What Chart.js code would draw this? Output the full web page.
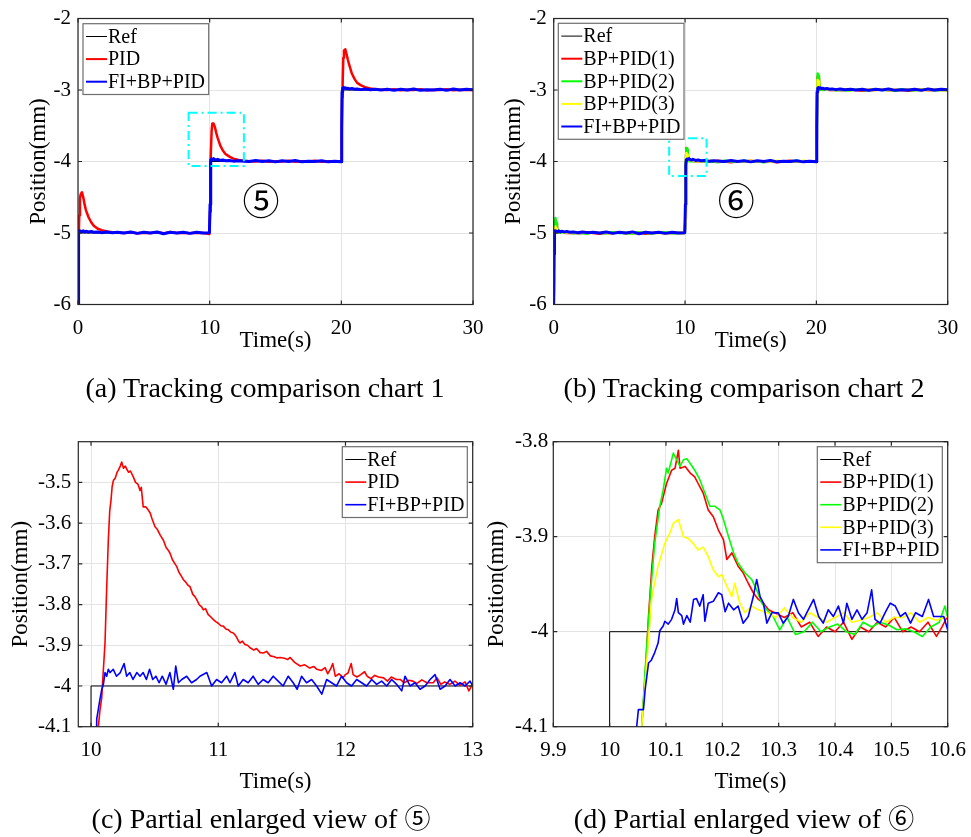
<!DOCTYPE html>
<html>
<head>
<meta charset="utf-8">
<script src="https://cdn.jsdelivr.net/npm/chart.js@4.4.1/dist/chart.umd.min.js"></script>
<style>
  body { margin: 0; background: #fff; width: 971px; height: 837px; position: relative; overflow: hidden; }
  canvas { position: absolute; }
  .cap { position: absolute; font-family: 'Liberation Serif', 'Times New Roman', Times, 'DejaVu Serif', serif; font-size: 28px; line-height: 1; white-space: nowrap; transform: translateX(-50%); color: #000; }
  .cap span { font-family: 'Noto Sans CJK JP', 'Noto Sans CJK SC', sans-serif; font-size: 26px; }
</style>
</head>
<body>
<canvas id="ca" width="485" height="360" style="left:0;top:0"></canvas>
<canvas id="cb" width="486" height="360" style="left:485px;top:0"></canvas>
<canvas id="cc" width="485" height="400" style="left:0;top:400px"></canvas>
<canvas id="cd" width="486" height="400" style="left:485px;top:400px"></canvas>
<div class="cap" style="left:265px;top:374px">(a) Tracking comparison chart 1</div>
<div class="cap" style="left:744px;top:374px">(b) Tracking comparison chart 2</div>
<div class="cap" style="left:261px;top:804px">(c) Partial enlarged view of <span>⑤</span></div>
<div class="cap" style="left:744px;top:804px">(d) Partial enlarged view of <span>⑥</span></div>
<script>
// ---- dados ----
// referência (degraus)
const refT = [0, 10, 10, 20, 20, 30];
const refY = [-5, -5, -4, -4, -3, -3];

// (a) / (b) eixo de tempo comum para PID e FI+BP+PID
const tA = [0, 0.03, 0.06, 0.1, 0.15, 0.2, 0.3, 0.4, 0.5, 0.6, 0.8, 1.0, 1.2, 1.5, 1.8, 2.2, 2.6, 3, 3.5, 4, 4.5, 5, 5.5, 6, 6.5, 7, 7.5, 8, 8.5, 9, 9.5, 9.98,
  10.03, 10.06, 10.1, 10.15, 10.2, 10.3, 10.4, 10.5, 10.6, 10.8, 11.0, 11.2, 11.5, 11.8, 12.2, 12.6, 13, 13.5, 14, 14.5, 15, 15.5, 16, 16.5, 17, 17.5, 18, 18.5, 19, 19.5, 19.98,
  20.03, 20.06, 20.1, 20.15, 20.2, 20.3, 20.4, 20.5, 20.6, 20.8, 21.0, 21.2, 21.5, 21.8, 22.2, 22.6, 23, 23.5, 24, 24.5, 25, 25.5, 26, 26.5, 27, 27.5, 28, 28.5, 29, 29.5, 30];
const pidA = [-6, -5.6, -5.1, -4.75, -4.52, -4.46, -4.43, -4.5, -4.6, -4.68, -4.78, -4.85, -4.9, -4.94, -4.96, -4.98, -4.99, -4.995, -5.0, -4.99, -5.005, -4.995, -5.0, -4.99, -5.005, -4.985, -5.0, -4.995, -5.005, -4.995, -5.0, -5.015,
  -4.7, -4.1, -3.92, -3.57, -3.47, -3.47, -3.52, -3.6, -3.665, -3.775, -3.846, -3.895, -3.932, -3.96, -3.98, -3.99, -3.995, -4.0, -3.99, -4.005, -3.995, -4.0, -3.99, -4.005, -3.995, -4.0, -3.99, -4.005, -3.995, -4.0, -4.0,
  -3.7, -3.1, -2.9, -2.55, -2.45, -2.43, -2.5, -2.58, -2.65, -2.77, -2.845, -2.9, -2.935, -2.96, -2.98, -2.99, -2.995, -3.0, -2.99, -3.005, -2.995, -3.0, -2.99, -3.005, -2.995, -3.0, -2.99, -3.005, -2.995, -3.0, -3.0];
const fibpA = [-6, -5.3, -4.99, -4.97, -4.98, -4.975, -4.98, -4.97, -4.985, -4.975, -4.985, -4.98, -4.99, -4.985, -4.995, -4.985, -4.995, -4.99, -5.0, -4.985, -5.005, -4.99, -5.0, -4.985, -5.01, -4.99, -5.0, -4.99, -5.005, -4.99, -5.0, -4.995,
  -4.6, -4.05, -3.975, -3.965, -3.975, -3.96, -3.975, -3.98, -3.97, -3.985, -3.98, -3.99, -3.985, -3.995, -3.99, -3.995, -4.0, -3.985, -4.0, -3.99, -4.005, -3.99, -4.0, -3.985, -4.005, -3.995, -4.0, -3.99, -4.005, -3.995, -4.005,
  -3.5, -3.03, -2.975, -2.965, -2.975, -2.97, -2.98, -2.975, -2.985, -2.98, -2.99, -2.985, -2.995, -2.985, -2.995, -2.99, -3.0, -2.99, -3.005, -2.99, -3.0, -2.985, -3.005, -2.995, -3.0, -2.99, -3.005, -2.985, -3.0, -2.99, -2.995];

// (b) eixo de tempo das curvas BP+PID
const tB = [0, 0.03, 0.06, 0.08, 0.1, 0.12, 0.15, 0.2, 0.25, 0.3, 0.5, 1, 1.5, 2, 2.5, 3, 3.5, 4, 4.5, 5, 5.5, 6, 6.5, 7, 7.5, 8, 8.5, 9, 9.5, 9.98,
  10.03, 10.06, 10.08, 10.1, 10.12, 10.15, 10.2, 10.25, 10.3, 10.5, 11, 11.5, 12, 12.5, 13, 13.5, 14, 14.5, 15, 15.5, 16, 16.5, 17, 17.5, 18, 18.5, 19, 19.5, 19.98,
  20.03, 20.06, 20.08, 20.1, 20.12, 20.15, 20.2, 20.25, 20.3, 20.5, 21, 21.5, 22, 22.5, 23, 23.5, 24, 24.5, 25, 25.5, 26, 26.5, 27, 27.5, 28, 28.5, 29, 29.5, 30];
const bp1B = [-6, -5.5, -5.05, -4.9, -4.84, -4.82, -4.83, -4.87, -4.93, -4.97, -4.99, -5.0, -4.995, -5.005, -4.99, -5.0, -5.01, -4.995, -5.0, -4.99, -5.005, -5.0, -4.995, -5.01, -5.0, -4.99, -5.005, -5.0, -4.995, -5.0,
  -4.8, -4.08, -3.91, -3.844, -3.81, -3.837, -3.9, -3.955, -3.985, -3.99, -4.0, -3.995, -4.005, -3.99, -4.0, -4.01, -3.995, -4.0, -3.99, -4.005, -4.0, -3.995, -4.01, -4.0, -3.99, -4.005, -4.0, -3.995, -4.0,
  -3.8, -3.08, -2.91, -2.84, -2.81, -2.835, -2.9, -2.955, -2.985, -2.99, -3.0, -2.995, -3.005, -2.99, -3.0, -3.01, -2.995, -3.0, -2.99, -3.005, -3.0, -2.995, -3.01, -3.0, -2.99, -3.005, -3.0, -2.995, -3.0];
const bp2B = [-6, -5.5, -5.05, -4.88, -4.82, -4.79, -4.81, -4.86, -4.92, -4.97, -4.995, -4.99, -5.005, -4.995, -5.01, -4.99, -5.0, -5.005, -4.99, -5.0, -4.995, -5.01, -4.99, -5.0, -5.005, -4.995, -4.99, -5.005, -5.0, -5.0,
  -4.8, -4.06, -3.9, -3.828, -3.815, -3.83, -3.875, -3.95, -3.995, -3.995, -3.99, -4.005, -3.995, -4.01, -3.99, -4.0, -4.005, -3.99, -4.0, -3.995, -4.01, -3.99, -4.0, -4.005, -3.995, -3.99, -4.005, -4.0, -4.0,
  -3.8, -3.06, -2.88, -2.8, -2.77, -2.8, -2.87, -2.94, -2.99, -3.0, -2.99, -3.005, -2.995, -3.01, -2.99, -3.0, -3.005, -2.99, -3.0, -2.995, -3.01, -2.99, -3.0, -3.005, -2.995, -2.99, -3.005, -3.0, -3.0];
const bp3B = [-6, -5.6, -5.15, -5.0, -4.94, -4.91, -4.92, -4.94, -4.97, -4.98, -4.985, -4.995, -5.0, -4.985, -5.005, -4.995, -4.99, -5.0, -5.005, -4.99, -5.0, -4.995, -5.005, -4.99, -5.0, -4.995, -5.005, -4.99, -5.0, -5.0,
  -4.85, -4.09, -3.94, -3.905, -3.882, -3.907, -3.94, -3.97, -3.98, -3.985, -3.995, -4.0, -3.985, -4.005, -3.995, -3.99, -4.0, -4.005, -3.99, -4.0, -3.995, -4.005, -3.99, -4.0, -3.995, -4.005, -3.99, -4.0, -3.995,
  -3.85, -3.09, -2.94, -2.89, -2.86, -2.88, -2.93, -2.96, -2.98, -2.985, -2.995, -3.0, -2.985, -3.005, -2.995, -2.99, -3.0, -3.005, -2.99, -3.0, -2.995, -3.005, -2.99, -3.0, -2.995, -3.005, -2.99, -3.0, -3.0];

// (c) zoom do degrau em 10 s  [tempo, posição]
const refC = [[9.9, -5], [10, -5], [10, -4], [13, -4]];
const pidC = [[10.0, -5.0], [10.058, -4.098], [10.07, -4.06], [10.084, -4.03], [10.097, -3.96], [10.11, -3.894], [10.123, -3.76], [10.136, -3.642], [10.147, -3.57], [10.157, -3.544], [10.166, -3.51], [10.176, -3.495],
  [10.19, -3.49], [10.205, -3.475], [10.215, -3.47], [10.23, -3.46], [10.241, -3.45], [10.255, -3.465], [10.27, -3.46], [10.28, -3.467], [10.295, -3.475], [10.31, -3.472], [10.333, -3.487], [10.35, -3.5],
  [10.37, -3.505], [10.385, -3.52], [10.395, -3.512], [10.41, -3.56], [10.43, -3.56], [10.45, -3.568], [10.465, -3.575], [10.48, -3.59], [10.503, -3.609], [10.52, -3.615], [10.545, -3.63], [10.569, -3.642],
  [10.59, -3.66], [10.61, -3.668], [10.621, -3.674], [10.64, -3.69], [10.66, -3.7], [10.674, -3.707], [10.69, -3.72], [10.71, -3.73], [10.726, -3.739], [10.745, -3.745], [10.76, -3.752], [10.778, -3.756],
  [10.8, -3.775], [10.815, -3.78], [10.831, -3.788], [10.85, -3.8], [10.87, -3.806], [10.883, -3.813], [10.9, -3.81], [10.92, -3.824], [10.94, -3.83], [10.962, -3.837], [10.98, -3.842], [11.0, -3.846],
  [11.02, -3.852], [11.04, -3.853], [11.06, -3.86], [11.08, -3.862], [11.1, -3.868], [11.119, -3.87], [11.14, -3.878], [11.16, -3.89], [11.172, -3.894], [11.19, -3.89], [11.21, -3.898], [11.23, -3.9],
  [11.25, -3.906], [11.28, -3.912], [11.3, -3.908], [11.33, -3.918], [11.355, -3.919], [11.38, -3.915], [11.41, -3.926], [11.44, -3.928], [11.46, -3.931], [11.49, -3.93], [11.52, -3.932], [11.545, -3.935],
  [11.565, -3.93], [11.6, -3.942], [11.644, -3.951], [11.68, -3.948], [11.72, -3.956], [11.75, -3.952], [11.775, -3.959], [11.81, -3.962], [11.84, -3.955], [11.86, -3.97], [11.88, -3.96], [11.9, -3.945],
  [11.92, -3.976], [11.95, -3.97], [11.98, -3.98], [12.0, -3.972], [12.02, -3.968], [12.045, -3.945], [12.06, -3.972], [12.09, -3.978], [12.12, -3.972], [12.15, -3.965], [12.17, -3.976], [12.2, -3.982],
  [12.23, -3.974], [12.26, -3.978], [12.3, -3.98], [12.33, -3.988], [12.36, -3.978], [12.4, -3.984], [12.43, -3.984], [12.46, -3.992], [12.5, -3.986], [12.53, -3.988], [12.56, -3.994], [12.6, -3.985],
  [12.64, -3.992], [12.69, -3.992], [12.72, -3.98], [12.75, -3.996], [12.78, -3.99], [12.82, -3.996], [12.86, -3.988], [12.9, -3.998], [12.94, -3.99], [12.97, -4.012], [13.0, -3.995]];
const fibpC = [[10.0, -5.0], [10.045, -4.081], [10.07, -4.033], [10.085, -4.008], [10.097, -3.996], [10.11, -3.967], [10.123, -3.976], [10.136, -3.959], [10.15, -3.967], [10.175, -3.959], [10.2, -3.976],
  [10.23, -3.967], [10.26, -3.945], [10.28, -3.976], [10.305, -3.967], [10.33, -3.984], [10.36, -3.967], [10.385, -3.976], [10.41, -3.967], [10.435, -3.984], [10.46, -3.959], [10.485, -3.984], [10.51, -3.976],
  [10.535, -3.992], [10.56, -3.976], [10.59, -3.996], [10.62, -3.967], [10.647, -4.008], [10.666, -3.951], [10.687, -3.992], [10.713, -3.984], [10.752, -3.976], [10.79, -3.992], [10.83, -3.984], [10.856, -3.976],
  [10.91, -3.967], [10.948, -4.0], [10.987, -3.984], [11.026, -3.992], [11.066, -3.976], [11.092, -3.992], [11.131, -3.967], [11.157, -4.0], [11.196, -3.984], [11.235, -3.992], [11.274, -3.976], [11.314, -3.996],
  [11.353, -3.984], [11.392, -3.992], [11.432, -3.976], [11.471, -3.988], [11.51, -4.0], [11.55, -3.976], [11.589, -3.992], [11.62, -4.008], [11.655, -3.976], [11.694, -3.992], [11.734, -3.984], [11.773, -4.0],
  [11.814, -4.02], [11.852, -3.984], [11.891, -3.992], [11.93, -4.0], [11.97, -3.976], [12.009, -3.992], [12.048, -4.0], [12.088, -3.984], [12.127, -3.992], [12.166, -4.0], [12.206, -3.984], [12.245, -3.996],
  [12.284, -3.988], [12.324, -4.0], [12.363, -3.984], [12.402, -3.996], [12.442, -4.012], [12.468, -3.976], [12.508, -4.0], [12.547, -3.992], [12.586, -4.008], [12.626, -4.0], [12.665, -3.984], [12.704, -3.972],
  [12.744, -4.008], [12.783, -4.0], [12.822, -3.984], [12.862, -4.0], [12.901, -3.992], [12.94, -4.0], [12.979, -3.988], [13.0, -4.0]];

// (d) zoom do degrau em 10 s, curvas BP+PID
const refD = [[9.9, -5], [10, -5], [10, -4], [10.6, -4]];
const bp1D = [[10.0, -5.0], [10.057, -4.1], [10.063, -4.047], [10.069, -3.984], [10.075, -3.931], [10.08, -3.9], [10.086, -3.872], [10.092, -3.865], [10.101, -3.844], [10.11, -3.83], [10.116, -3.828],
  [10.122, -3.809], [10.125, -3.828], [10.134, -3.826], [10.143, -3.833], [10.151, -3.837], [10.157, -3.844], [10.166, -3.854], [10.175, -3.872], [10.184, -3.879], [10.193, -3.893], [10.202, -3.903],
  [10.208, -3.924], [10.217, -3.917], [10.228, -3.931], [10.237, -3.938], [10.246, -3.949], [10.255, -3.959], [10.264, -3.966], [10.273, -3.97], [10.282, -3.977], [10.293, -3.98], [10.31, -3.985],
  [10.325, -3.98], [10.34, -3.995], [10.355, -3.99], [10.37, -4.005], [10.385, -3.995], [10.4, -4.0], [10.415, -3.99], [10.43, -4.008], [10.445, -3.995], [10.46, -4.0], [10.475, -3.99], [10.49, -3.995],
  [10.505, -3.985], [10.52, -4.0], [10.535, -3.995], [10.55, -4.0], [10.565, -3.99], [10.58, -4.005], [10.59, -3.995], [10.6, -3.983]];
const bp2D = [[10.0, -5.0], [10.057, -4.1], [10.063, -4.04], [10.072, -3.963], [10.08, -3.907], [10.089, -3.868], [10.095, -3.851], [10.101, -3.828], [10.104, -3.833], [10.113, -3.812], [10.119, -3.819],
  [10.125, -3.826], [10.131, -3.819], [10.137, -3.818], [10.143, -3.823], [10.151, -3.83], [10.16, -3.84], [10.169, -3.854], [10.178, -3.868], [10.187, -3.868], [10.196, -3.872], [10.202, -3.882],
  [10.211, -3.9], [10.22, -3.917], [10.228, -3.928], [10.24, -3.938], [10.252, -3.945], [10.261, -3.956], [10.27, -3.97], [10.279, -3.977], [10.29, -3.984], [10.302, -3.998], [10.315, -3.985],
  [10.33, -4.003], [10.345, -4.0], [10.36, -3.99], [10.375, -4.0], [10.39, -3.995], [10.405, -3.992], [10.42, -4.0], [10.435, -4.003], [10.45, -3.99], [10.465, -3.995], [10.48, -3.99], [10.495, -3.993],
  [10.51, -3.998], [10.525, -3.997], [10.54, -4.0], [10.555, -4.005], [10.57, -3.995], [10.585, -3.99], [10.595, -3.973], [10.6, -3.985]];
const bp3D = [[10.0, -5.0], [10.057, -4.1], [10.066, -4.03], [10.075, -3.963], [10.086, -3.931], [10.098, -3.907], [10.107, -3.896], [10.113, -3.886], [10.122, -3.882], [10.131, -3.9], [10.14, -3.902],
  [10.148, -3.907], [10.157, -3.914], [10.166, -3.911], [10.175, -3.921], [10.184, -3.935], [10.193, -3.942], [10.199, -3.94], [10.208, -3.952], [10.217, -3.963], [10.222, -3.949], [10.231, -3.97],
  [10.24, -3.98], [10.252, -3.973], [10.264, -3.977], [10.28, -3.98], [10.295, -3.985], [10.31, -3.975], [10.325, -3.985], [10.34, -3.99], [10.355, -3.98], [10.37, -3.985], [10.385, -3.99], [10.4, -3.985],
  [10.415, -3.98], [10.43, -3.99], [10.445, -3.988], [10.46, -3.985], [10.475, -3.98], [10.49, -3.99], [10.505, -3.985], [10.52, -3.985], [10.535, -3.98], [10.55, -3.99], [10.565, -3.985], [10.58, -3.988], [10.6, -3.984]];
const fibpD = [[10.0, -5.0], [10.048, -4.1], [10.051, -4.082], [10.06, -4.082], [10.063, -4.061], [10.069, -4.033], [10.074, -4.03], [10.08, -4.022], [10.086, -4.012], [10.089, -3.999], [10.095, -3.994],
  [10.098, -3.989], [10.104, -3.992], [10.11, -3.987], [10.116, -3.977], [10.119, -3.965], [10.122, -3.98], [10.128, -3.983], [10.131, -3.992], [10.137, -3.983], [10.143, -3.99], [10.149, -3.966],
  [10.154, -3.965], [10.16, -3.973], [10.166, -3.961], [10.169, -3.989], [10.175, -3.97], [10.184, -3.968], [10.193, -3.959], [10.199, -3.961], [10.205, -3.979], [10.211, -3.97], [10.22, -3.977],
  [10.228, -3.973], [10.237, -3.991], [10.246, -3.984], [10.255, -3.963], [10.261, -3.945], [10.267, -3.963], [10.273, -3.97], [10.279, -3.991], [10.288, -3.98], [10.299, -3.98], [10.308, -3.991],
  [10.317, -3.984], [10.326, -3.966], [10.335, -3.98], [10.344, -3.987], [10.35, -3.98], [10.362, -3.966], [10.371, -3.984], [10.379, -3.991], [10.388, -3.977], [10.397, -3.984], [10.406, -3.973],
  [10.415, -3.991], [10.421, -3.97], [10.43, -3.987], [10.439, -3.977], [10.448, -3.987], [10.457, -3.98], [10.465, -3.956], [10.471, -3.987], [10.48, -3.991], [10.489, -3.98], [10.498, -3.97],
  [10.507, -3.973], [10.516, -3.984], [10.525, -3.98], [10.534, -3.991], [10.543, -3.98], [10.555, -3.984], [10.566, -3.966], [10.575, -3.984], [10.584, -3.984], [10.593, -3.984], [10.6, -3.998]];

// ticks
const xTicksAB = [0, 10, 20, 30];
const yTicksAB = [-6, -5, -4, -3, -2];
const xTicksC = [10, 11, 12, 13];
const yTicksC = [-4.1, -4, -3.9, -3.8, -3.7, -3.6, -3.5];
const xTicksD = [9.9, 10, 10.1, 10.2, 10.3, 10.4, 10.5, 10.6];
const yTicksD = [-4.1, -4, -3.9, -3.8];

// ---- helpers ----
const SERIF = "'Liberation Serif', 'Times New Roman', Times, 'DejaVu Serif', serif";
const CIRC = "'Noto Sans CJK JP', 'Noto Sans CJK SC', 'DejaVu Sans'";
const zip = (t, y) => t.map((v, i) => ({ x: v, y: y[i] }));
const pts = arr => arr.map(p => ({ x: p[0], y: p[1] }));
const fmt = v => String(Math.round(v * 100) / 100);

// moldura, ticks internos, legenda e anotações (estilo MATLAB)
const decor = {
  id: 'decor',
  afterDatasetsDraw(chart, args, o) {
    const ctx = chart.ctx, ca = chart.chartArea;
    const xs = chart.scales.x, ys = chart.scales.y;
    ctx.save();
    // caixa tracejada
    if (o.zoomBox) {
      const b = o.zoomBox;
      const x1 = xs.getPixelForValue(b.x[0]), x2 = xs.getPixelForValue(b.x[1]);
      const y1 = ys.getPixelForValue(b.y[1]), y2 = ys.getPixelForValue(b.y[0]);
      ctx.strokeStyle = '#00ffff';
      ctx.lineWidth = 2;
      ctx.setLineDash([9, 4, 2, 4]);
      ctx.strokeRect(x1, y1, x2 - x1, y2 - y1);
      ctx.setLineDash([]);
    }
    if (o.mark) {
      ctx.fillStyle = '#000';
      ctx.font = '37px ' + CIRC;
      ctx.textAlign = 'center';
      ctx.textBaseline = 'middle';
      ctx.fillText(o.mark.text, xs.getPixelForValue(o.mark.x), ys.getPixelForValue(o.mark.y));
    }
    // moldura
    ctx.strokeStyle = '#262626';
    ctx.lineWidth = 1.2;
    ctx.strokeRect(ca.left, ca.top, ca.right - ca.left, ca.bottom - ca.top);
    ctx.beginPath();
    xs.ticks.forEach(t => {
      const p = xs.getPixelForValue(t.value);
      ctx.moveTo(p, ca.bottom); ctx.lineTo(p, ca.bottom - 4);
      ctx.moveTo(p, ca.top); ctx.lineTo(p, ca.top + 4);
    });
    ys.ticks.forEach(t => {
      const p = ys.getPixelForValue(t.value);
      ctx.moveTo(ca.left, p); ctx.lineTo(ca.left + 4, p);
      ctx.moveTo(ca.right, p); ctx.lineTo(ca.right - 4, p);
    });
    ctx.stroke();
    // legenda
    const lg = o.legend;
    if (lg) {
      const ds = chart.data.datasets;
      const rowH = 22.6;
      const h = 3 + rowH * ds.length;
      const x0 = lg.corner === 'tl' ? ca.left + lg.dx : ca.right - lg.dx - lg.w;
      const y0 = ca.top + lg.dy;
      ctx.fillStyle = '#fff';
      ctx.fillRect(x0, y0, lg.w, h);
      ctx.strokeStyle = '#6e6e6e';
      ctx.lineWidth = 1.2;
      ctx.strokeRect(x0, y0, lg.w, h);
      ctx.font = '20px ' + SERIF;
      ctx.textAlign = 'left';
      ctx.textBaseline = 'middle';
      ds.forEach((d, i) => {
        const y = y0 + 1.5 + rowH * (i + 0.5);
        ctx.strokeStyle = d.borderColor;
        ctx.lineWidth = Math.min(d.borderWidth, 2);
        ctx.beginPath();
        ctx.moveTo(x0 + 3, y); ctx.lineTo(x0 + 24, y);
        ctx.stroke();
        ctx.fillStyle = '#000';
        ctx.fillText(d.label, x0 + 25, y + 1);
      });
    }
    ctx.restore();
  }
};

function makeChart(id, c) {
  const n = c.series.length;
  return new Chart(document.getElementById(id), {
    type: 'line',
    data: {
      datasets: c.series.map((s, i) => ({
        label: s.label,
        data: s.data,
        borderColor: s.color,
        borderWidth: s.width,
        pointRadius: 0,
        tension: 0,
        borderJoinStyle: 'round',
        order: n - 1 - i
      }))
    },
    options: {
      responsive: false,
      animation: false,
      devicePixelRatio: 1,
      layout: { padding: c.pad },
      plugins: { legend: { display: false }, tooltip: { enabled: false }, decor: c.decor },
      scales: {
        x: {
          type: 'linear', min: c.xMin, max: c.xMax,
          afterBuildTicks: s => { s.ticks = c.xTicks.map(v => ({ value: v })); },
          afterFit: s => { s.height = c.xH; s.paddingLeft = 0; s.paddingRight = 0; },
          ticks: { font: { family: SERIF, size: 21 }, color: '#000', padding: 11, maxRotation: 0, autoSkip: false, callback: fmt },
          grid: { color: '#e4e4e4', lineWidth: 1, drawTicks: false },
          border: { display: false },
          title: { display: true, text: 'Time(s)', color: '#000', padding: 0, font: { family: SERIF, size: 23, lineHeight: 1 } }
        },
        y: {
          type: 'linear', min: c.yMin, max: c.yMax,
          afterBuildTicks: s => { s.ticks = c.yTicks.map(v => ({ value: v })); },
          afterFit: s => { s.width = c.yW; s.paddingTop = 0; s.paddingBottom = 0; },
          ticks: { font: { family: SERIF, size: 21 }, color: '#000', padding: c.yPad, autoSkip: false, callback: fmt },
          grid: { color: '#e4e4e4', lineWidth: 1, drawTicks: false },
          border: { display: false },
          title: { display: true, text: 'Position(mm)', color: '#000', padding: 0, font: { family: SERIF, size: 23, lineHeight: 1 } }
        }
      }
    },
    plugins: [decor]
  });
}

const RED = '#ff0000', BLUE = '#0000ff', GREEN = '#00ff00', YELLOW = '#ffff00', BLACK = '#000000';

makeChart('ca', {
  series: [
    { label: 'Ref', data: zip(refT, refY), color: BLACK, width: 1 },
    { label: 'PID', data: zip(tA, pidA), color: RED, width: 2.5 },
    { label: 'FI+BP+PID', data: zip(tA, fibpA), color: BLUE, width: 3 }
  ],
  xMin: 0, xMax: 30, yMin: -6, yMax: -2, xTicks: xTicksAB, yTicks: yTicksAB,
  pad: { left: 27.5, top: 18.5, right: 12, bottom: 7.5 }, yW: 50.5, xH: 48, yPad: 7,
  decor: {
    legend: { corner: 'tl', dx: 5, dy: 5.2, w: 125.7 },
    zoomBox: { x: [8.4, 12.6], y: [-4.063, -3.317] },
    mark: { text: '⑤', x: 13.9, y: -4.55 }
  }
});

makeChart('cb', {
  series: [
    { label: 'Ref', data: zip(refT, refY), color: BLACK, width: 1 },
    { label: 'BP+PID(1)', data: zip(tB, bp1B), color: RED, width: 2.5 },
    { label: 'BP+PID(2)', data: zip(tB, bp2B), color: GREEN, width: 2.5 },
    { label: 'BP+PID(3)', data: zip(tB, bp3B), color: YELLOW, width: 2.5 },
    { label: 'FI+BP+PID', data: zip(tA, fibpA), color: BLUE, width: 3 }
  ],
  xMin: 0, xMax: 30, yMin: -6, yMax: -2, xTicks: xTicksAB, yTicks: yTicksAB,
  pad: { left: 17.3, top: 18.5, right: 23.3, bottom: 7.5 }, yW: 51.4, xH: 48, yPad: 7,
  decor: {
    legend: { corner: 'tl', dx: 4.6, dy: 4.8, w: 125.7 },
    zoomBox: { x: [8.79, 11.64], y: [-4.203, -3.675] },
    mark: { text: '⑥', x: 13.9, y: -4.55 }
  }
});

makeChart('cc', {
  series: [
    { label: 'Ref', data: pts(refC), color: BLACK, width: 1 },
    { label: 'PID', data: pts(pidC), color: RED, width: 1.6 },
    { label: 'FI+BP+PID', data: pts(fibpC), color: BLUE, width: 1.6 }
  ],
  xMin: 9.9, xMax: 13, yMin: -4.1, yMax: -3.4, xTicks: xTicksC, yTicks: yTicksC,
  pad: { left: 9.5, top: 41.7, right: 12.3, bottom: 6.5 }, yW: 68.8, xH: 66.8, yPad: 7,
  decor: { legend: { corner: 'tr', dx: 5.4, dy: 5, w: 125 } }
});

makeChart('cd', {
  series: [
    { label: 'Ref', data: pts(refD), color: BLACK, width: 1 },
    { label: 'BP+PID(1)', data: pts(bp1D), color: RED, width: 1.6 },
    { label: 'BP+PID(2)', data: pts(bp2D), color: GREEN, width: 1.6 },
    { label: 'BP+PID(3)', data: pts(bp3D), color: YELLOW, width: 1.6 },
    { label: 'FI+BP+PID', data: pts(fibpD), color: BLUE, width: 1.6 }
  ],
  xMin: 9.9, xMax: 10.6, yMin: -4.1, yMax: -3.8, xTicks: xTicksD, yTicks: yTicksD,
  pad: { left: 0.5, top: 41.7, right: 23.3, bottom: 6.5 }, yW: 67.8, xH: 66.8, yPad: 5,
  decor: { legend: { corner: 'tr', dx: 5.4, dy: 5, w: 125 } }
});
</script>
</body>
</html>
